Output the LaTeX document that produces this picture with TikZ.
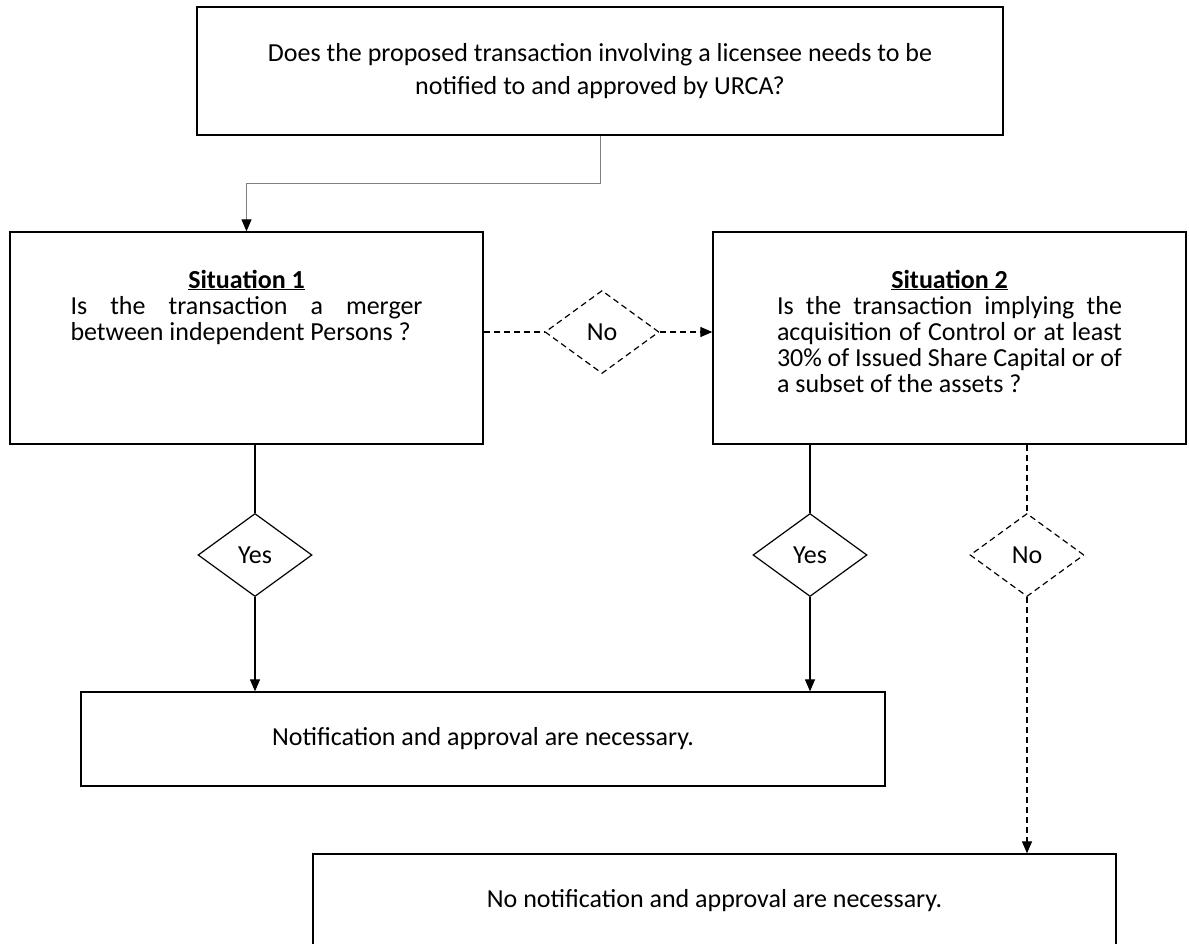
\documentclass[tikz,border=0pt]{standalone}
\usepackage{fontspec}
\setmainfont{Carlito}
\usetikzlibrary{shapes.geometric,arrows.meta}

\begin{document}
\begin{tikzpicture}[x=1pt,y=-1pt,
    font=\fontsize{26}{26}\selectfont,
    box/.style={draw,line width=1.3pt,inner sep=0pt},
    question/.style={box,minimum width=473pt,text width=352pt,align=justify,text height=56pt,text depth=156pt},
    decision/.style={diamond,draw,line width=1.2pt,inner sep=0pt,minimum width=114pt,minimum height=83pt},
    nobranch/.style={dash pattern=on 6pt off 4pt},
    link/.style={line width=1.2pt},
    tip/.style={-{Triangle[length=12pt,width=10pt,color=black]}}]
    \useasboundingbox (0,0) rectangle (1189,943);

    \node[box,minimum width=806pt,minimum height=128pt,align=center,font=\fontsize{26}{33}\selectfont] (query) at (600,71) {Does the proposed transaction involving a licensee needs to be\\notified to and approved by URCA?};

    \node[question] (sit1) at (246.5,338) {{\centering\underline{\textbf{Situation 1}}\par}Is the transaction a merger\linebreak between independent Persons~?};
    \node[question,text width=345pt] (sit2) at (949.5,338) {{\centering\underline{\textbf{Situation 2}}\par}Is the transaction implying the\linebreak acquisition of Control or at least\linebreak 30\% of Issued Share Capital or of\linebreak a subset of the assets ?};

    \node[decision,nobranch] (no1) at (602,332) {No};
    \node[decision] (yes1) at (255,555) {Yes};
    \node[decision] (yes2) at (810,555) {Yes};
    \node[decision,nobranch] (no2) at (1027,555) {No};

    \node[box,minimum width=804pt,minimum height=94pt] (notif) at (483,739) {Notification and approval are necessary.};
    \node[box,minimum width=803pt,minimum height=94pt] (nonotif) at (714.5,901) {No notification and approval are necessary.};

    % query down to situation 1
    \coordinate (bend) at (600,183);
    \draw[gray,line width=1pt,tip] (query.south) -- (bend) -| (sit1.north);

    % situation 1 -> situation 2
    \draw[link,nobranch] (no1.west -| sit1.east) -- (no1.west);
    \draw[link,nobranch,tip] (no1.east) -- (no1.east -| sit2.west);

    % yes branches
    \draw[link] (yes1.north |- sit1.south) -- (yes1.north);
    \draw[link,tip] (yes1.south) -- (yes1.south |- notif.north);
    \draw[link] (yes2.north |- sit2.south) -- (yes2.north);
    \draw[link,tip] (yes2.south) -- (yes2.south |- notif.north);

    % no branch
    \draw[link,nobranch] (no2.north |- sit2.south) -- (no2.north);
    \draw[link,nobranch,tip] (no2.south) -- (no2.south |- nonotif.north);
\end{tikzpicture}
\end{document}
